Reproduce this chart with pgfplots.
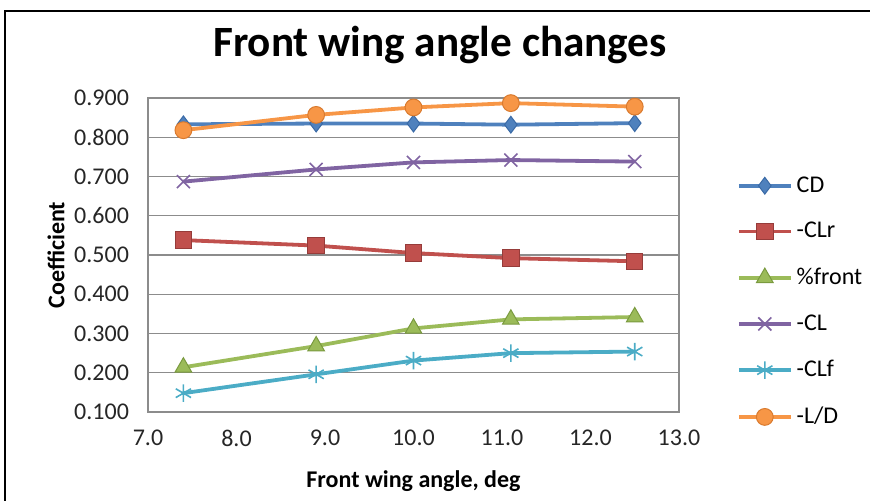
\documentclass[border=0pt]{standalone}
\usepackage{fontspec}
\setmainfont{Carlito}
\usepackage{pgfplots}
\pgfplotsset{compat=1.18}
\definecolor{cdblue}{HTML}{4F81BD}
\definecolor{cdblueE}{HTML}{3A6AA6}
\definecolor{clrred}{HTML}{C0504D}
\definecolor{clrredE}{HTML}{963C3A}
\definecolor{frgreen}{HTML}{9BBB59}
\definecolor{frgreenE}{HTML}{7A9A3F}
\definecolor{clpurple}{HTML}{8064A2}
\definecolor{clfteal}{HTML}{4BACC6}
\definecolor{ldorange}{HTML}{F79646}
\definecolor{ldorangeE}{HTML}{D97A2E}
\definecolor{gridgray}{HTML}{8C8C8C}
\begin{document}
\begin{tikzpicture}
\useasboundingbox (0,0) rectangle (435pt,250pt);
\draw[line width=1pt] (2.35pt,-2pt) -- (2.35pt,244.65pt) -- (437pt,244.65pt);
\node[font=\bfseries\fontsize{21.6}{24}\selectfont] at (220pt,227.5pt) {Front wing angle changes};
\begin{axis}[
  at={(74pt,44pt)}, anchor=south west,
  scale only axis, width=265.5pt, height=157pt,
  xmin=7, xmax=13, ymin=0.1, ymax=0.9,
  xtick={7,8,...,13}, ytick={0.1,0.2,...,0.9},
  /pgf/number format/assume math mode=true,
  xticklabel style={/pgf/number format/.cd, fixed, fixed zerofill, precision=1},
  yticklabel style={/pgf/number format/.cd, fixed, fixed zerofill, precision=3},
  tick label style={font=\fontsize{12}{14}\selectfont, text=black!85},
  major tick length=0pt,
  xticklabel shift=5.5pt, yticklabel shift=6pt,
  ymajorgrids, grid style={gridgray, line width=0.6pt},
  axis line style={gridgray, line width=0.8pt},
  xlabel={\bfseries Front wing angle, deg},
  ylabel={\bfseries Coefficient},
  label style={font=\bfseries\fontsize{12}{14}\selectfont},
  xlabel style={yshift=-5pt},
  ylabel style={yshift=-2pt},
  legend style={at={(1.097,0.777)}, anchor=north west, draw=none, fill=none,
    font=\fontsize{12}{14}\selectfont, row sep=9.6pt,
    nodes={inner xsep=2pt}},
  legend cell align=left,
  legend image code/.code={\draw[mark repeat=2,mark phase=2] plot coordinates {(0pt,0pt) (13pt,0pt) (26pt,0pt)};},
  every axis plot/.append style={line width=1.9pt},
]
\addplot[cdblue, mark=diamond*, mark size=4.2pt, mark options={fill=cdblue, draw=cdblueE, line width=0.5pt}]
  coordinates {(7.4,0.833) (8.9,0.835) (10.0,0.835) (11.1,0.832) (12.5,0.836)};
\addlegendentry{CD}
\addplot[clrred, mark=square*, mark size=4.1pt, mark options={fill=clrred, draw=clrredE, line width=0.5pt}]
  coordinates {(7.4,0.538) (8.9,0.524) (10.0,0.505) (11.1,0.492) (12.5,0.484)};
\addlegendentry{-CLr}
\addplot[frgreen, mark=triangle*, mark size=4.8pt, mark options={fill=frgreen, draw=frgreenE, line width=0.5pt}]
  coordinates {(7.4,0.214) (8.9,0.268) (10.0,0.313) (11.1,0.336) (12.5,0.342)};
\addlegendentry{\%front}
\addplot[clpurple, mark=x, mark size=4.6pt, mark options={line width=0.8pt}]
  coordinates {(7.4,0.687) (8.9,0.718) (10.0,0.736) (11.1,0.742) (12.5,0.738)};
\addlegendentry{-CL}
\addplot[clfteal, mark=asterisk, mark size=4.4pt, mark options={line width=0.8pt}]
  coordinates {(7.4,0.148) (8.9,0.196) (10.0,0.231) (11.1,0.250) (12.5,0.254)};
\addlegendentry{-CLf}
\addplot[ldorange, mark=*, mark size=4.2pt, mark options={fill=ldorange, draw=ldorangeE, line width=0.5pt}]
  coordinates {(7.4,0.818) (8.9,0.857) (10.0,0.876) (11.1,0.887) (12.5,0.878)};
\addlegendentry{-L/D}
\end{axis}
\end{tikzpicture}
\end{document}
